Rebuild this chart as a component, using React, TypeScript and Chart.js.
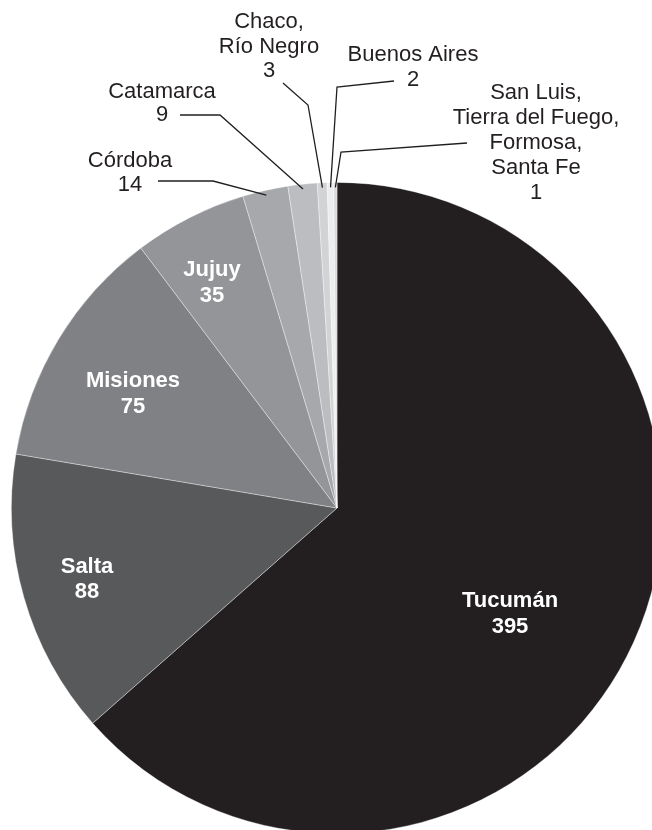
import React, { useEffect, useRef } from "react";
import { Chart, registerables } from "chart.js";

Chart.register(...registerables);

const categories = [
  "Tucumán",
  "Salta",
  "Misiones",
  "Jujuy",
  "Córdoba",
  "Catamarca",
  "Chaco, Río Negro",
  "Buenos Aires",
  "San Luis, Tierra del Fuego, Formosa, Santa Fe",
];
const values = [395, 88, 75, 35, 14, 9, 3, 2, 1];
const sliceColors = [
  "#231f20",
  "#58595b",
  "#808184",
  "#939598",
  "#a7a8ab",
  "#bcbdc0",
  "#d1d3d4",
  "#ededee",
  "#d9dadb",
];

// label text lines (category name lines + value)
const labelLines = [
  ["Tucumán"],
  ["Salta"],
  ["Misiones"],
  ["Jujuy"],
  ["Córdoba"],
  ["Catamarca"],
  ["Chaco,", "Río Negro"],
  ["Buenos Aires"],
  ["San Luis,", "Tierra del Fuego,", "Formosa,", "Santa Fe"],
];

// layout (pixel positions of label blocks and leader elbows)
type Layout = {
  inside: boolean;
  x: number;
  y: number;
  lh: number;
  path?: [number, number][];
};
const labelLayout: Layout[] = [
  { inside: true, x: 510, y: 601, lh: 26 },
  { inside: true, x: 87, y: 567, lh: 25 },
  { inside: true, x: 133, y: 381, lh: 26 },
  { inside: true, x: 212, y: 270, lh: 26 },
  { inside: false, x: 130, y: 161, lh: 24, path: [[158, 181], [213, 181]] },
  { inside: false, x: 162, y: 92, lh: 23, path: [[180, 115], [220, 115]] },
  { inside: false, x: 269, y: 22, lh: 24.5, path: [[283, 83], [308, 105]] },
  { inside: false, x: 413, y: 55, lh: 25, path: [[394, 81], [337, 87]] },
  { inside: false, x: 536, y: 93, lh: 25, path: [[467, 143], [341, 152]] },
];

const FONT = '"Liberation Sans", Arial, Helvetica, sans-serif';

const labelPlugin = {
  id: "pieLabels",
  afterDatasetsDraw(chart: any) {
    const ctx = chart.ctx as CanvasRenderingContext2D;
    const meta = chart.getDatasetMeta(0);
    ctx.save();
    meta.data.forEach((arc: any, i: number) => {
      const lay = labelLayout[i];
      const lines = [...labelLines[i], String(values[i])];
      ctx.textAlign = "center";
      ctx.textBaseline = "middle";
      if (lay.inside) {
        ctx.fillStyle = "#ffffff";
        ctx.font = `bold 22px ${FONT}`;
      } else {
        ctx.fillStyle = "#231f20";
        ctx.font = `22px ${FONT}`;
      }
      lines.forEach((t, k) => ctx.fillText(t, lay.x, lay.y + k * lay.lh));
      if (!lay.inside && lay.path) {
        const p = arc.getProps(["x", "y", "startAngle", "endAngle", "outerRadius"], true);
        const mid = (p.startAngle + p.endAngle) / 2;
        const rr = p.outerRadius * 0.985;
        const ex = p.x + Math.cos(mid) * rr;
        const ey = p.y + Math.sin(mid) * rr;
        ctx.strokeStyle = "#231f20";
        ctx.lineWidth = 1.3;
        ctx.beginPath();
        ctx.moveTo(lay.path[0][0], lay.path[0][1]);
        for (let k = 1; k < lay.path.length; k++) ctx.lineTo(lay.path[k][0], lay.path[k][1]);
        ctx.lineTo(ex, ey);
        ctx.stroke();
      }
    });
    ctx.restore();
  },
};

export default function App() {
  const ref = useRef<HTMLCanvasElement | null>(null);
  useEffect(() => {
    if (!ref.current) return;
    const chart = new Chart(ref.current, {
      type: "pie",
      data: {
        labels: categories,
        datasets: [
          {
            data: values,
            backgroundColor: sliceColors,
            borderColor: "rgba(255,255,255,0.45)",
            borderWidth: 0.8,
          },
        ],
      },
      options: {
        animation: false,
        responsive: false,
        maintainAspectRatio: false,
        devicePixelRatio: 1,
        layout: { padding: { left: 11, right: 7, top: 182, bottom: 6 } },
        plugins: {
          legend: { display: false },
          tooltip: { enabled: false },
        },
      },
      plugins: [labelPlugin],
    });
    return () => chart.destroy();
  }, []);
  return (
    <div
      style={{
        position: "absolute",
        left: 0,
        top: 0,
        width: 652,
        height: 830,
        overflow: "hidden",
        background: "#ffffff",
      }}
    >
      <canvas ref={ref} width={670} height={840} style={{ display: "block", width: 670, height: 840 }} />
    </div>
  );
}
